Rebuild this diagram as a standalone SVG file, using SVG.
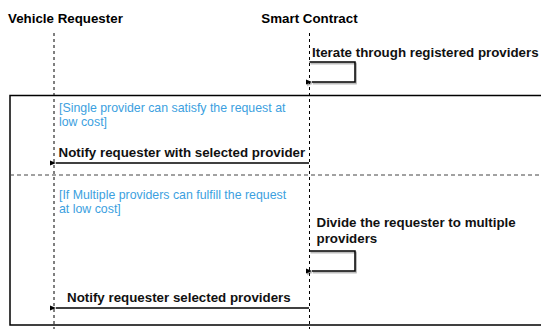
<svg xmlns="http://www.w3.org/2000/svg" width="541" height="329" viewBox="0 0 541 329">
  <defs>
    <marker id="arrow" viewBox="0 0 8 8" refX="1" refY="4" markerWidth="7" markerHeight="7" markerUnits="userSpaceOnUse" orient="auto">
      <path d="M8,1 L1,4 L8,7 Z" fill="#000"/>
    </marker>
    <filter id="shadow" x="-10%" y="-10%" width="130%" height="150%">
      <feDropShadow dx="1" dy="1.5" stdDeviation="0.6" flood-color="#000" flood-opacity="0.35"/>
    </filter>
  </defs>
  <style>
    .title { font-family: "Liberation Sans", Arial, sans-serif; font-size: 13.33px; font-weight: bold; fill: #000; }
    .msg { font-family: "Liberation Sans", Arial, sans-serif; font-size: 13.33px; font-weight: bold; fill: #111; }
    .guard { font-family: "Liberation Sans", Arial, sans-serif; font-size: 12.35px; fill: #3c9fe0; }
    .lifeline { stroke: #000; stroke-width: 1; stroke-dasharray: 3 3; fill: none; }
    .frame { stroke: #000; stroke-width: 1.5; fill: none; }
    .sep { stroke: #444; stroke-width: 1; stroke-dasharray: 4 3; fill: none; }
    .call { stroke: #000; stroke-width: 1.5; fill: none; }
  </style>

  <rect width="541" height="329" fill="#fff"/>

  <!-- participants -->
  <g id="vehicle-requester">
    <text class="title" x="8" y="23">Vehicle Requester</text>
    <line class="lifeline" x1="54" y1="33" x2="54" y2="329"/>
  </g>
  <g id="smart-contract">
    <text class="title" x="309.5" y="23" text-anchor="middle">Smart Contract</text>
    <line class="lifeline" x1="309.5" y1="33" x2="309.5" y2="329"/>
  </g>

  <!-- alt fragment -->
  <g id="alt-fragment">
    <rect class="frame" x="10" y="95.5" width="545" height="229.5"/>
    <line class="sep" x1="10" y1="175" x2="541" y2="175"/>
    <text class="guard" x="59" y="112">[Single provider can satisfy the request at</text>
    <text class="guard" x="59" y="125.5">low cost]</text>
    <text class="guard" x="59" y="199">[If Multiple providers can fulfill the request</text>
    <text class="guard" x="59" y="212.5">at low cost]</text>
  </g>

  <!-- messages -->
  <g id="connectors">
    <g id="iterate">
      <path class="call" d="M309.5,62 H355 V82 H312" marker-end="url(#arrow)" filter="url(#shadow)"/>
      <text class="msg" x="312" y="57">Iterate through registered providers</text>
    </g>
    <g id="notify-single">
      <line class="call" x1="309" y1="163" x2="56" y2="163" marker-end="url(#arrow)"/>
      <text class="msg" x="58.5" y="157">Notify requester with selected provider</text>
    </g>
    <g id="divide">
      <path class="call" d="M309.5,251 H355 V271 H312" marker-end="url(#arrow)" filter="url(#shadow)"/>
      <text class="msg" x="316.5" y="227">Divide the requester to multiple</text>
      <text class="msg" x="316.5" y="243">providers</text>
    </g>
    <g id="notify-multiple">
      <line class="call" x1="309" y1="308" x2="56" y2="308" marker-end="url(#arrow)"/>
      <text class="msg" x="67" y="302">Notify requester selected providers</text>
    </g>
  </g>
</svg>
